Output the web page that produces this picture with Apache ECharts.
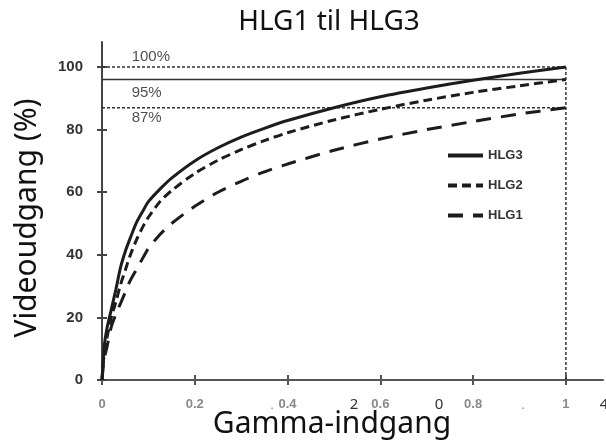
<!DOCTYPE html>
<html>
<head>
<meta charset="utf-8">
<script src="https://cdn.jsdelivr.net/npm/echarts@6/dist/echarts.min.js"></script>
<style>html,body{margin:0;padding:0;background:#fff}#c{width:606px;height:443px}</style>
</head>
<body>
<div id="c"></div>
<script>
const xVals = [0,0.005,0.01,0.02,0.03,0.04,0.05,0.06,0.075,0.09,0.1,0.125,0.15,0.2,0.25,0.3,0.35,0.4,0.5,0.6,0.7,0.8,0.9,1];
const hlg3 = [0,11,16,22.5,29,36,41,45,50.5,54.5,57,61,64.5,70,74.2,77.6,80.4,82.9,87,90.5,93.3,95.8,98,100];
const hlg2 = [0,9,13,20,25,30.5,35,39.5,45,49.5,52,57,60.5,66,70.2,73.6,76.5,79,83.1,86.5,89.4,91.9,94,96];
const hlg1 = [0,7,10,17,21,24.5,28,31.5,35.5,39.5,42,46.5,50,55.5,60,63.5,66.5,69,73.4,77,80,82.6,85,87];
const seriesNames = ['HLG3','HLG2','HLG1'];
const xTicks = [0,0.2,0.4,0.6,0.8,1];
const yTicks = [0,20,40,60,80,100];
const refLevels = [100,96,87];
const refLabels = ['100%','95%','87%'];
const refLabelY = [103.1,91.9,83.9];
const strayTexts = ['.','2','0','.','4'];

const pts = arr => xVals.map((x,i)=>[x,arr[i]]);
const ink = '#1c1c1c';
const chart = echarts.init(document.getElementById('c'));

const xBase = {type:'value',min:0,max:1.08,splitLine:{show:false}};
const yBase = {type:'value',min:0,max:108,splitLine:{show:false}};

const refSeries = refLevels.map((v,i)=>({
  type:'line', silent:true, symbol:'none', xAxisIndex:0, yAxisIndex:0,
  data:[[0,v],[1,v]],
  lineStyle:{color:'#333',width:1.5,type: i===1 ? 'solid' : [3,2]},
  z:1
}));

chart.setOption({
  animation:false,
  grid:{left:102,top:42,width:501,height:338,containLabel:false},
  legend:{
    data:seriesNames, orient:'vertical', left:441, top:144,
    itemWidth:35, itemHeight:14, itemGap:17,
    itemStyle:{color:'transparent',borderWidth:0,opacity:0},
    lineStyle:{width:4},
    textStyle:{fontFamily:'Liberation Sans, Arial',fontSize:13,fontWeight:'bold',color:'#333'}
  },
  xAxis:[
    Object.assign({},xBase,{
      axisLine:{show:true,lineStyle:{color:'#555',width:2}},
      axisTick:{show:true,length:5,inside:false,customValues:xTicks,lineStyle:{color:'#555',width:2}},
      axisLabel:{customValues:xTicks,margin:18,color:'#888',fontFamily:'Liberation Sans, Arial',fontSize:13,fontWeight:'bold'}
    }),
    Object.assign({},xBase,{
      position:'bottom',
      axisLine:{show:false},
      axisTick:{show:true,length:5,inside:true,customValues:xTicks,lineStyle:{color:'#555',width:2}},
      axisLabel:{show:false}
    })
  ],
  yAxis:[
    Object.assign({},yBase,{
      axisLine:{show:true,lineStyle:{color:'#444',width:2}},
      axisTick:{show:true,length:5,inside:false,customValues:yTicks,lineStyle:{color:'#444',width:2}},
      axisLabel:{customValues:yTicks,margin:19,color:'#333',fontFamily:'Liberation Sans, Arial',fontSize:15,fontWeight:'bold'}
    }),
    Object.assign({},yBase,{
      position:'left',
      axisLine:{show:false},
      axisTick:{show:true,length:5,inside:true,customValues:yTicks,lineStyle:{color:'#444',width:2}},
      axisLabel:{show:false}
    })
  ],
  series:[
    {name:seriesNames[0],type:'line',symbol:'none',smooth:0.3,data:pts(hlg3),lineStyle:{color:ink,width:3,type:'solid'},itemStyle:{color:ink},z:5},
    {name:seriesNames[1],type:'line',symbol:'none',smooth:0.3,data:pts(hlg2),lineStyle:{color:ink,width:3,type:[9,5]},itemStyle:{color:ink},z:5},
    {name:seriesNames[2],type:'line',symbol:'none',smooth:0.3,data:pts(hlg1),lineStyle:{color:ink,width:3,type:[15,10]},itemStyle:{color:ink},z:5},
    ...refSeries,
    {type:'line',silent:true,symbol:'none',data:[[1,0],[1,100]],lineStyle:{color:'#333',width:1.5,type:[3,2]},z:1},
    {type:'scatter',silent:true,symbolSize:0,
      data:refLabels.map((t,i)=>({value:[0.064,refLabelY[i]],name:t})),
      label:{show:true,position:'right',distance:0,formatter:p=>p.name,color:'#222',fontFamily:'Liberation Sans, Arial',fontSize:15}
    }
  ],
  graphic:[
    {type:'text',x:329,y:22,style:{text:'HLG1 til HLG3',font:'28px "Noto Sans"',fill:'#111',align:'center',verticalAlign:'middle'}},
    {type:'text',x:332,y:424,style:{text:'Gamma-indgang',font:'30px "Noto Sans"',fill:'#111',align:'center',verticalAlign:'middle'}},
    {type:'text',x:27,y:218,rotation:Math.PI/2,style:{text:'Videoudgang (%)',font:'30px "Noto Sans"',fill:'#111',align:'center',verticalAlign:'middle'}},
    {type:'text',x:272,y:405,style:{text:strayTexts[0],font:'13px "Liberation Sans"',fill:'#888',align:'center',verticalAlign:'middle'}},
    {type:'text',x:354,y:405,style:{text:strayTexts[1],font:'15px "Noto Sans"',fill:'#333',align:'center',verticalAlign:'middle'}},
    {type:'text',x:439,y:405,style:{text:strayTexts[2],font:'15px "Noto Sans"',fill:'#333',align:'center',verticalAlign:'middle'}},
    {type:'text',x:523,y:405,style:{text:strayTexts[3],font:'13px "Liberation Sans"',fill:'#888',align:'center',verticalAlign:'middle'}},
    {type:'text',x:604,y:405,style:{text:strayTexts[4],font:'15px "Noto Sans"',fill:'#333',align:'center',verticalAlign:'middle'}}
  ]
});
</script>
</body>
</html>
